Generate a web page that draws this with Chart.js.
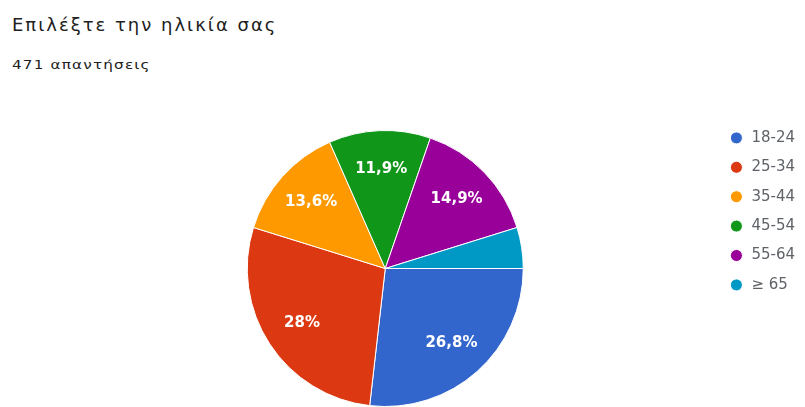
<!DOCTYPE html>
<html lang="el">
<head>
<meta charset="utf-8">
<script src="https://cdn.jsdelivr.net/npm/chart.js@4"></script>
<style>
  html, body { margin: 0; padding: 0; width: 805px; height: 407px; overflow: hidden; background: #fff; }
  .title { position: absolute; left: 12px; top: 14px; font: 18px "DejaVu Sans", sans-serif; color: #212121; letter-spacing: 2px; white-space: nowrap; }
  .subtitle { position: absolute; left: 12px; top: 57px; font: 13px "DejaVu Sans", sans-serif; color: #212121; letter-spacing: 1px; white-space: nowrap; transform: scaleX(1.17); transform-origin: left; }
  .chartBox { position: absolute; left: 0; top: 116px; width: 805px; height: 305px; }
</style>
</head>
<body>
<div class="title">Επιλέξτε την ηλικία σας</div>
<div class="subtitle">471 απαντήσεις</div>
<div class="chartBox"><canvas id="ageChart"></canvas></div>
<script>
// ηλικιακές ομάδες και ποσοστά (%)
const ageGroups = ["18-24", "25-34", "35-44", "45-54", "55-64", "≥ 65"];
const percents = [26.8, 28, 13.6, 11.9, 14.9, 4.8];
const sliceColors = ["#3366cc", "#dc3912", "#ff9900", "#109618", "#990099", "#0099c6"];

// ετικέτες ποσοστών μέσα στις φέτες
const sliceLabels = {
    id: "sliceLabels",
    afterDatasetsDraw(chart) {
        const ctx = chart.ctx;
        const meta = chart.getDatasetMeta(0);
        ctx.save();
        ctx.fillStyle = "#fff";
        ctx.font = "bold 15px 'DejaVu Sans', sans-serif";
        ctx.textAlign = "center";
        ctx.textBaseline = "middle";
        meta.data.forEach((arc, i) => {
            const v = percents[i];
            if (v < 5) return; // μικρές φέτες χωρίς ετικέτα
            const mid = (arc.startAngle + arc.endAngle) / 2;
            const r = arc.outerRadius * 0.72;
            const x = arc.x + Math.cos(mid) * r;
            const y = arc.y + Math.sin(mid) * r;
            ctx.fillText(String(v).replace(".", ",") + "%", x, y);
        });
        ctx.restore();
    }
};

new Chart(document.getElementById("ageChart"), {
    type: "pie",
    data: {
        labels: ageGroups,
        datasets: [{
            data: percents,
            backgroundColor: sliceColors,
            borderColor: "#fff",
            borderWidth: 1,
            hoverOffset: 0
        }]
    },
    options: {
        responsive: true,
        maintainAspectRatio: false,
        animation: false,
        rotation: 90,
        radius: 138,
        layout: { padding: { left: 56, right: 0 } },
        plugins: {
            legend: {
                position: "right",
                align: "start",
                labels: {
                    usePointStyle: true,
                    pointStyle: "circle",
                    boxHeight: 8.5,
                    padding: 14.4,
                    color: "#5f6368",
                    font: { family: "'DejaVu Sans', sans-serif", size: 15 }
                }
            },
            tooltip: { enabled: false }
        }
    },
    plugins: [sliceLabels]
});
</script>
</body>
</html>
